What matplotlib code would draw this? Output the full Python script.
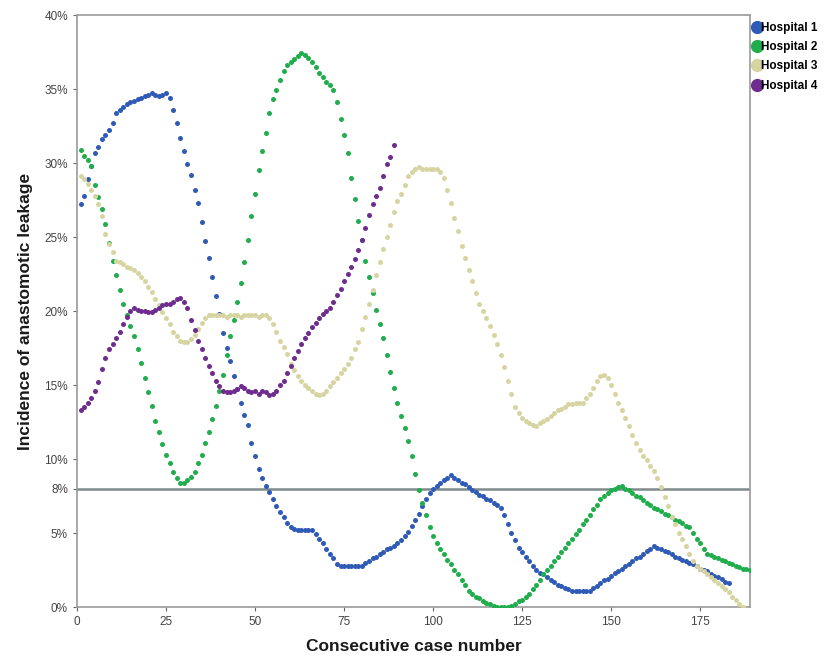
import matplotlib
matplotlib.use("Agg")
import matplotlib.pyplot as plt
from matplotlib.lines import Line2D

plt.rcParams["font.family"] = ["Liberation Sans", "DejaVu Sans"]

# Incidence of anastomotic leakage (%) per consecutive case (moving estimate)
hospital1 = [27.2, 27.8, 28.9, 29.8, 30.7, 31.1, 31.6, 31.9, 32.2, 32.7,
             33.4, 33.6, 33.8, 34.0, 34.1, 34.2, 34.3, 34.4, 34.5, 34.6,
             34.7, 34.6, 34.5, 34.6, 34.7, 34.4, 33.6, 32.7, 31.7, 30.8,
             29.9, 29.2, 28.2, 27.3, 26.0, 24.7, 23.6, 22.3, 21.0, 19.8,
             18.5, 17.5, 16.6, 15.6, 14.7, 13.8, 13.0, 12.3, 11.1, 10.2,
             9.3, 8.7, 8.2, 7.8, 7.3, 6.8, 6.4, 6.1, 5.7, 5.4,
             5.3, 5.2, 5.2, 5.2, 5.2, 5.2, 4.9, 4.6, 4.3, 3.9,
             3.6, 3.3, 2.9, 2.8, 2.8, 2.8, 2.8, 2.8, 2.8, 2.8,
             3.0, 3.1, 3.3, 3.4, 3.6, 3.7, 3.9, 4.0, 4.1, 4.3,
             4.5, 4.8, 5.1, 5.5, 5.9, 6.3, 6.8, 7.3, 7.7, 8.0,
             8.2, 8.4, 8.6, 8.7, 8.9, 8.7, 8.6, 8.4, 8.3, 8.1,
             7.9, 7.8, 7.6, 7.5, 7.3, 7.2, 7.0, 6.9, 6.7, 6.2,
             5.6, 5.0, 4.5, 4.0, 3.7, 3.4, 3.1, 2.8, 2.5, 2.3,
             2.2, 2.0, 1.8, 1.7, 1.5, 1.4, 1.3, 1.2, 1.1, 1.1,
             1.1, 1.1, 1.1, 1.1, 1.3, 1.4, 1.6, 1.8, 1.9, 2.1,
             2.3, 2.4, 2.6, 2.8, 2.9, 3.1, 3.3, 3.4, 3.6, 3.8,
             3.9, 4.1, 4.0, 3.9, 3.8, 3.7, 3.6, 3.4, 3.3, 3.2,
             3.1, 3.0, 2.9, 2.8, 2.6, 2.5, 2.4, 2.2, 2.1, 2.0,
             1.9, 1.7, 1.6]

hospital2 = [30.9, 30.5, 30.2, 29.8, 28.5, 27.7, 26.9, 25.9, 24.6, 23.4,
             22.4, 21.4, 20.5, 19.7, 19.0, 18.3, 17.4, 16.5, 15.5, 14.5,
             13.6, 12.6, 11.8, 11.0, 10.3, 9.7, 9.1, 8.7, 8.4, 8.4,
             8.6, 8.8, 9.1, 9.7, 10.3, 11.1, 11.8, 12.7, 13.6, 14.6,
             15.7, 17.0, 18.3, 19.4, 20.6, 21.9, 23.3, 24.8, 26.4, 27.9,
             29.5, 30.8, 32.0, 33.4, 34.3, 34.9, 35.6, 36.2, 36.6, 36.8,
             37.0, 37.2, 37.4, 37.3, 37.1, 36.8, 36.5, 36.1, 35.8, 35.5,
             35.3, 34.9, 34.1, 33.0, 31.9, 30.7, 29.0, 27.6, 26.1, 24.8,
             23.4, 22.3, 21.2, 20.1, 19.1, 18.2, 17.0, 15.9, 14.8, 13.8,
             12.9, 12.1, 11.2, 10.2, 9.0, 7.9, 7.0, 6.2, 5.4, 4.8,
             4.3, 3.9, 3.6, 3.2, 2.9, 2.5, 2.2, 1.8, 1.5, 1.1,
             0.9, 0.7, 0.6, 0.4, 0.3, 0.2, 0.1, 0.0, 0.0, 0.0,
             0.0, 0.1, 0.2, 0.4, 0.5, 0.7, 0.9, 1.2, 1.5, 1.8,
             2.2, 2.5, 2.8, 3.1, 3.4, 3.7, 4.0, 4.3, 4.6, 4.9,
             5.2, 5.6, 5.9, 6.2, 6.6, 6.9, 7.3, 7.5, 7.7, 7.9,
             8.0, 8.1, 8.2, 8.0, 7.9, 7.7, 7.5, 7.4, 7.2, 7.0,
             6.9, 6.7, 6.6, 6.5, 6.3, 6.2, 6.1, 5.9, 5.8, 5.7,
             5.5, 5.4, 5.0, 4.6, 4.3, 3.9, 3.6, 3.5, 3.4, 3.3,
             3.2, 3.1, 3.0, 2.9, 2.8, 2.7, 2.6, 2.6, 2.5]

hospital3 = [29.1, 28.9, 28.6, 28.2, 27.8, 27.2, 26.4, 25.2, 24.5, 24.0,
             23.4, 23.3, 23.2, 23.0, 22.9, 22.8, 22.6, 22.3, 22.0, 21.6,
             21.3, 20.8, 20.4, 19.9, 19.5, 19.1, 18.6, 18.3, 18.0, 17.9,
             17.9, 18.1, 18.4, 18.8, 19.2, 19.5, 19.7, 19.7, 19.7, 19.7,
             19.7, 19.6, 19.7, 19.7, 19.7, 19.6, 19.7, 19.7, 19.7, 19.7,
             19.6, 19.7, 19.7, 19.5, 19.1, 18.6, 18.0, 17.6, 17.1, 16.4,
             16.0, 15.6, 15.3, 15.0, 14.8, 14.6, 14.4, 14.3, 14.4, 14.6,
             14.9, 15.2, 15.5, 15.8, 16.1, 16.4, 16.8, 17.4, 17.9, 18.8,
             19.6, 20.5, 21.4, 22.4, 23.3, 24.2, 25.0, 25.8, 26.7, 27.4,
             27.9, 28.5, 29.1, 29.4, 29.6, 29.7, 29.6, 29.6, 29.6, 29.6,
             29.6, 29.4, 29.0, 28.2, 27.3, 26.3, 25.4, 24.4, 23.6, 22.8,
             22.0, 21.2, 20.5, 20.0, 19.5, 19.0, 18.4, 17.8, 17.0, 16.2,
             15.3, 14.4, 13.5, 13.1, 12.8, 12.6, 12.4, 12.3, 12.2, 12.4,
             12.6, 12.7, 12.9, 13.1, 13.3, 13.4, 13.5, 13.7, 13.7, 13.8,
             13.8, 13.8, 14.1, 14.4, 14.8, 15.3, 15.6, 15.7, 15.5, 15.0,
             14.4, 13.8, 13.3, 12.8, 12.2, 11.6, 11.1, 10.6, 10.2, 9.9,
             9.5, 9.2, 8.7, 8.1, 7.4, 6.8, 6.1, 5.6, 5.0, 4.6,
             4.1, 3.6, 3.1, 2.8, 2.6, 2.4, 2.2, 2.0, 1.8, 1.6,
             1.4, 1.2, 1.0, 0.7, 0.5, 0.2, 0.0]

hospital4 = [13.3, 13.5, 13.8, 14.1, 14.6, 15.2, 16.1, 16.8, 17.4, 17.8,
             18.2, 18.6, 19.1, 19.6, 20.0, 20.2, 20.1, 20.0, 20.0, 19.9,
             19.9, 20.1, 20.2, 20.4, 20.5, 20.5, 20.6, 20.8, 20.9, 20.6,
             20.2, 19.4, 18.7, 18.0, 17.4, 16.8, 16.3, 15.8, 15.3, 14.9,
             14.6, 14.5, 14.5, 14.6, 14.7, 14.9, 14.8, 14.6, 14.5, 14.6,
             14.4, 14.6, 14.5, 14.3, 14.4, 14.6, 15.0, 15.3, 15.8, 16.3,
             16.8, 17.3, 17.8, 18.2, 18.5, 18.9, 19.2, 19.5, 19.8, 20.0,
             20.2, 20.6, 21.1, 21.5, 22.0, 22.5, 23.0, 23.5, 24.1, 24.8,
             25.6, 26.5, 27.2, 27.8, 28.3, 29.1, 29.9, 30.4, 31.2]

series_names = ["Hospital 1", "Hospital 2", "Hospital 3", "Hospital 4"]
series_values = [hospital1, hospital2, hospital3, hospital4]
colors = ["#2f5bb7", "#1fae4b", "#d6d5a2", "#6e2c8e"]

y_ticks = [0, 5, 8, 10, 15, 20, 25, 30, 35, 40]
y_tick_labels = ["0%", "5%", "8%", "10%", "15%", "20%", "25%", "30%", "35%", "40%"]
x_ticks = [0, 25, 50, 75, 100, 125, 150, 175]
threshold = 8

fig = plt.figure(figsize=(8.37, 6.62), dpi=100)
ax = fig.add_axes([77/837, 1 - 607/662, (750 - 77)/837, (607 - 15)/662])

for name, vals, c in zip(series_names, series_values, colors):
    xs = list(range(1, len(vals) + 1))
    ax.plot(xs, vals, linestyle="none", marker="o", ms=3.6, color=c,
            markeredgewidth=0, label=name, zorder=3)

ax.axhline(threshold, color="#7d8b8b", lw=1.8, zorder=2)

ax.set_xlim(0, 189)
ax.set_ylim(0, 40)
ax.set_yticks(y_ticks)
ax.set_yticklabels(y_tick_labels)
ax.set_xticks(x_ticks)
ax.tick_params(axis="both", labelsize=8.5, colors="#666666", length=3,
               width=0.8, direction="out")
for lab in ax.get_xticklabels() + ax.get_yticklabels():
    lab.set_color("#444444")
for s in ax.spines.values():
    s.set_color("#9a9a9a")
    s.set_linewidth(1.2)

ax.set_xlabel("Consecutive case number", fontsize=12.5, fontweight="bold",
              color="#1a1a1a", labelpad=8)
ax.set_ylabel("Incidence of anastomotic leakage", fontsize=12.5,
              fontweight="bold", color="#1a1a1a", labelpad=8)

handles = [Line2D([], [], linestyle="none", marker="o", ms=9.5, color=c,
                  markeredgewidth=0) for c in colors]
fig.legend(handles, series_names, loc="upper left",
           bbox_to_anchor=(746/837, 1 - 17/662), frameon=False,
           handletextpad=-0.1, labelspacing=0.62,
           borderaxespad=0, handlelength=1.0,
           prop={"weight": "bold", "size": 8.5, "family": "Liberation Sans"})

fig.savefig("out.png", dpi=100)
